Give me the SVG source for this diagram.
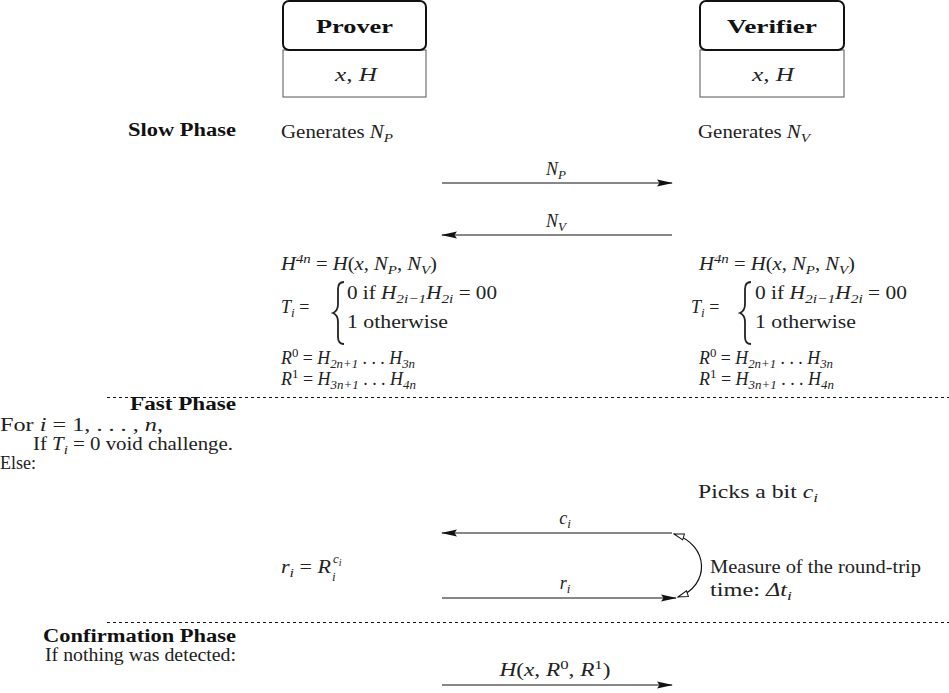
<svg xmlns="http://www.w3.org/2000/svg" width="949" height="693" viewBox="0 0 949 693">
<style>
text{font-family:"Liberation Serif","DejaVu Serif","Times New Roman",serif;font-size:18px;fill:#222}
.b{font-weight:bold;fill:#111}
.i{font-style:italic}
.s{font-size:13px}
.ss{font-size:10px}
.ar{stroke:#111;stroke-width:1.2;fill:none}
.dash{stroke:#111;stroke-width:1;stroke-dasharray:3 3}
</style>
<defs>
<marker id="ah" viewBox="0 0 16 9" refX="15" refY="4.5" markerWidth="16" markerHeight="9" markerUnits="userSpaceOnUse" orient="auto-start-reverse">
<path d="M0,1 L16,4.5 L0,8 L2.5,4.5 Z" fill="#111"/>
</marker>
<marker id="oh" viewBox="0 0 12 8" refX="11" refY="4" markerWidth="12" markerHeight="8" markerUnits="userSpaceOnUse" orient="auto-start-reverse">
<path d="M1,1 L11,4 L1,7 Z" fill="#fff" stroke="#111" stroke-width="1"/>
</marker>
</defs>
<rect width="949" height="693" fill="#fff"/>

<g id="prover">
<rect x="283" y="50" width="143" height="47" fill="#fff" stroke="#555" stroke-width="1"/>
<rect x="283" y="1" width="143" height="49" rx="6" fill="#fff" stroke="#111" stroke-width="2"/>
<text class="b" x="354.5" y="33" text-anchor="middle" textLength="77" lengthAdjust="spacingAndGlyphs">Prover</text>
<text x="356" y="81" text-anchor="middle" textLength="42" lengthAdjust="spacingAndGlyphs"><tspan class="i">x</tspan>,  <tspan class="i">H</tspan></text>
</g>

<g id="verifier">
<rect x="700" y="50" width="144" height="47" fill="#fff" stroke="#555" stroke-width="1"/>
<rect x="700" y="1" width="144" height="49" rx="6" fill="#fff" stroke="#111" stroke-width="2"/>
<text class="b" x="772" y="33" text-anchor="middle" textLength="90" lengthAdjust="spacingAndGlyphs">Verifier</text>
<text x="773" y="81" text-anchor="middle" textLength="42" lengthAdjust="spacingAndGlyphs"><tspan class="i">x</tspan>,  <tspan class="i">H</tspan></text>
</g>

<g id="phase-labels">
<text class="b" x="236" y="136" text-anchor="end" textLength="108" lengthAdjust="spacingAndGlyphs">Slow Phase</text>
<text class="b" x="236" y="410" text-anchor="end" textLength="106" lengthAdjust="spacingAndGlyphs">Fast Phase</text>
<text class="b" x="236" y="642" text-anchor="end" textLength="193" lengthAdjust="spacingAndGlyphs">Confirmation Phase</text>
</g>

<g id="slow-phase">
<text x="281" y="138" textLength="112" lengthAdjust="spacingAndGlyphs">Generates <tspan class="i">N</tspan><tspan class="s i" dy="4">P</tspan></text>
<text x="698" y="138" textLength="112" lengthAdjust="spacingAndGlyphs">Generates <tspan class="i">N</tspan><tspan class="s i" dy="4">V</tspan></text>

<text x="281" y="270" textLength="156" lengthAdjust="spacingAndGlyphs"><tspan class="i">H</tspan><tspan class="s i" dy="-7">4n</tspan><tspan dy="7"> = </tspan><tspan class="i">H</tspan>(<tspan class="i">x</tspan>, <tspan class="i">N</tspan><tspan class="s i" dy="4">P</tspan><tspan dy="-4">, </tspan><tspan class="i">N</tspan><tspan class="s i" dy="4">V</tspan><tspan dy="-4">)</tspan></text>
<text x="281" y="313"><tspan class="i">T</tspan><tspan class="s i" dy="4">i</tspan><tspan dy="-4"> =</tspan></text>
<path d="M344,282 q-6,0 -6,7 v15 q0,7 -5,9 q5,2 5,9 v15 q0,7 6,7" fill="none" stroke="#222" stroke-width="1.8"/>
<text x="347" y="299" textLength="150" lengthAdjust="spacingAndGlyphs">0  if  <tspan class="i">H</tspan><tspan class="s i" dy="4">2i−1</tspan><tspan class="i" dy="-4">H</tspan><tspan class="s i" dy="4">2i</tspan><tspan dy="-4"> = 00</tspan></text>
<text x="347" y="328" textLength="101" lengthAdjust="spacingAndGlyphs">1 otherwise</text>
<text x="281" y="364" textLength="134" lengthAdjust="spacingAndGlyphs"><tspan class="i">R</tspan><tspan class="s" dy="-7">0</tspan><tspan dy="7"> = </tspan><tspan class="i">H</tspan><tspan class="s i" dy="4">2n+1</tspan><tspan dy="-4"> . . . </tspan><tspan class="i">H</tspan><tspan class="s i" dy="4">3n</tspan></text>
<text x="281" y="385" textLength="135" lengthAdjust="spacingAndGlyphs"><tspan class="i">R</tspan><tspan class="s" dy="-7">1</tspan><tspan dy="7"> = </tspan><tspan class="i">H</tspan><tspan class="s i" dy="4">3n+1</tspan><tspan dy="-4"> . . . </tspan><tspan class="i">H</tspan><tspan class="s i" dy="4">4n</tspan></text>

<text x="699" y="270" textLength="156" lengthAdjust="spacingAndGlyphs"><tspan class="i">H</tspan><tspan class="s i" dy="-7">4n</tspan><tspan dy="7"> = </tspan><tspan class="i">H</tspan>(<tspan class="i">x</tspan>, <tspan class="i">N</tspan><tspan class="s i" dy="4">P</tspan><tspan dy="-4">, </tspan><tspan class="i">N</tspan><tspan class="s i" dy="4">V</tspan><tspan dy="-4">)</tspan></text>
<text x="691" y="313"><tspan class="i">T</tspan><tspan class="s i" dy="4">i</tspan><tspan dy="-4"> =</tspan></text>
<path d="M751,282 q-6,0 -6,7 v15 q0,7 -5,9 q5,2 5,9 v15 q0,7 6,7" fill="none" stroke="#222" stroke-width="1.8"/>
<text x="755" y="299" textLength="152" lengthAdjust="spacingAndGlyphs">0  if  <tspan class="i">H</tspan><tspan class="s i" dy="4">2i−1</tspan><tspan class="i" dy="-4">H</tspan><tspan class="s i" dy="4">2i</tspan><tspan dy="-4"> = 00</tspan></text>
<text x="755" y="328" textLength="101" lengthAdjust="spacingAndGlyphs">1 otherwise</text>
<text x="699" y="364" textLength="134" lengthAdjust="spacingAndGlyphs"><tspan class="i">R</tspan><tspan class="s" dy="-7">0</tspan><tspan dy="7"> = </tspan><tspan class="i">H</tspan><tspan class="s i" dy="4">2n+1</tspan><tspan dy="-4"> . . . </tspan><tspan class="i">H</tspan><tspan class="s i" dy="4">3n</tspan></text>
<text x="699" y="385" textLength="135" lengthAdjust="spacingAndGlyphs"><tspan class="i">R</tspan><tspan class="s" dy="-7">1</tspan><tspan dy="7"> = </tspan><tspan class="i">H</tspan><tspan class="s i" dy="4">3n+1</tspan><tspan dy="-4"> . . . </tspan><tspan class="i">H</tspan><tspan class="s i" dy="4">4n</tspan></text>
</g>

<g id="fast-phase">
<text x="0" y="431" textLength="163" lengthAdjust="spacingAndGlyphs">For <tspan class="i">i</tspan> = 1, . . . , <tspan class="i">n</tspan>,</text>
<text x="33" y="450" textLength="200" lengthAdjust="spacingAndGlyphs">If <tspan class="i">T</tspan><tspan class="s i" dy="4">i</tspan><tspan dy="-4"> = 0 void challenge.</tspan></text>
<text x="0" y="469">Else:</text>
<text x="698" y="498" textLength="120" lengthAdjust="spacingAndGlyphs">Picks a bit <tspan class="i">c</tspan><tspan class="s i" dy="4">i</tspan></text>
<text x="281" y="573" textLength="50" lengthAdjust="spacingAndGlyphs"><tspan class="i">r</tspan><tspan class="s i" dy="4">i</tspan><tspan dy="-4"> = </tspan><tspan class="i">R</tspan></text>
<text class="s i" x="333" y="563">c<tspan class="ss" dy="3">i</tspan></text>
<text class="s i" x="332" y="581">i</text>
<text x="710" y="573" textLength="211" lengthAdjust="spacingAndGlyphs">Measure of the round-trip</text>
<text x="710" y="596" textLength="82" lengthAdjust="spacingAndGlyphs">time: <tspan class="i">Δt</tspan><tspan class="s i" dy="4">i</tspan></text>
</g>

<g id="confirmation-phase">
<text x="45" y="661" textLength="191" lengthAdjust="spacingAndGlyphs">If nothing was detected:</text>
</g>

<g id="separators">
<line class="dash" x1="107" y1="397.5" x2="949" y2="397.5"/>
<line class="dash" x1="107" y1="622.5" x2="949" y2="622.5"/>
</g>

<g id="connectors">
<line class="ar" x1="442" y1="183" x2="672" y2="183" marker-end="url(#ah)"/>
<text x="556" y="175" text-anchor="middle"><tspan class="i">N</tspan><tspan class="s i" dy="4">P</tspan></text>
<line class="ar" x1="672" y1="235" x2="442" y2="235" marker-end="url(#ah)"/>
<text x="556" y="227" text-anchor="middle"><tspan class="i">N</tspan><tspan class="s i" dy="4">V</tspan></text>
<line class="ar" x1="672" y1="533" x2="442" y2="533" marker-end="url(#ah)"/>
<text x="565" y="524" text-anchor="middle"><tspan class="i">c</tspan><tspan class="s i" dy="4">i</tspan></text>
<line class="ar" x1="442" y1="598" x2="676" y2="598" marker-end="url(#ah)"/>
<text x="565" y="589" text-anchor="middle"><tspan class="i">r</tspan><tspan class="s i" dy="4">i</tspan></text>
<path class="ar" d="M674,534 C710,545 710,586 678,597" marker-start="url(#oh)" marker-end="url(#oh)"/>
<line class="ar" x1="442" y1="685" x2="672" y2="685" marker-end="url(#ah)"/>
<text x="555" y="676" text-anchor="middle" textLength="111" lengthAdjust="spacingAndGlyphs"><tspan class="i">H</tspan>(<tspan class="i">x</tspan>, <tspan class="i">R</tspan><tspan class="s" dy="-7">0</tspan><tspan dy="7">, </tspan><tspan class="i">R</tspan><tspan class="s" dy="-7">1</tspan><tspan dy="7">)</tspan></text>
</g>
</svg>
